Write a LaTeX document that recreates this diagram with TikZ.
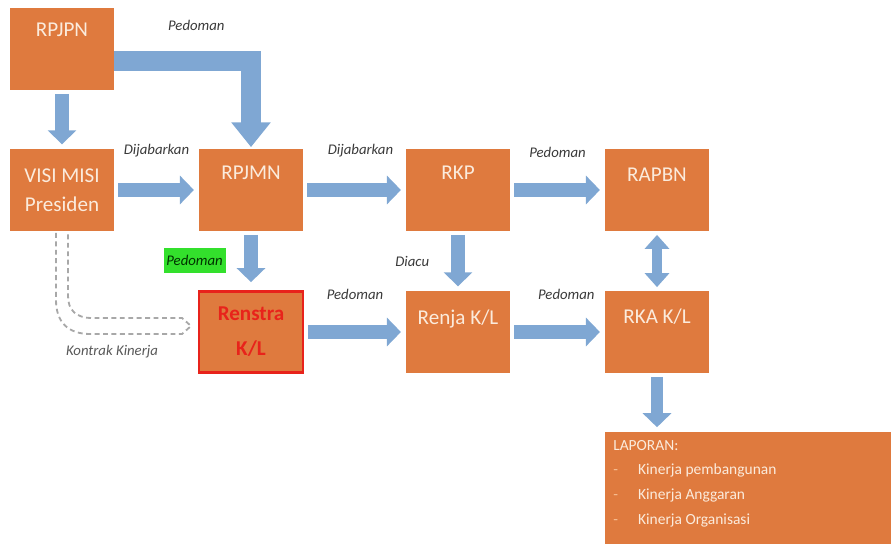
\documentclass[tikz,border=0pt]{standalone}
\usepackage{fontspec}
\setmainfont{Carlito}
\usepackage{xcolor}
\usepackage{tikz}
\usetikzlibrary{arrows.meta,positioning,calc}

\definecolor{boxorange}{HTML}{DF7A3E}
\definecolor{arrowblue}{HTML}{7FA7D3}
\definecolor{boxtext}{HTML}{FBEBDC}
\definecolor{lblgray}{HTML}{3A3A3A}
\definecolor{dashgray}{HTML}{A8A8A8}
\definecolor{renstrared}{HTML}{E8231B}
\definecolor{markgreen}{HTML}{33E02C}
\definecolor{bulletorange}{HTML}{F7BE92}

\tikzset{
  box/.style={fill=boxorange, minimum width=2.6cm, minimum height=2.03cm, inner sep=0pt},
  boxtxt/.style={text=boxtext, font=\fontsize{15}{21}\selectfont, inner sep=0pt},
  lbl/.style={text=lblgray, font=\fontsize{10.5}{12}\selectfont\itshape, inner sep=1pt},
  greenlbl/.style={lbl, fill=markgreen, text=black!80!green, minimum height=0.62cm, inner sep=2pt},
  blk/.style={arrowblue, line width=0.37cm, shorten <=0.1cm, shorten >=0.12cm,
    -{Triangle[width=0.7cm,length=0.35cm]}},
  blkbig/.style={arrowblue, line width=0.5cm, line join=miter, shorten >=0.05cm,
    -{Triangle[width=0.95cm,length=0.62cm]}},
  blkdbl/.style={arrowblue, line width=0.27cm, shorten <=0.1cm, shorten >=0.1cm,
    {Triangle[width=0.6cm,length=0.35cm]}-{Triangle[width=0.6cm,length=0.35cm]}},
  dashln/.style={dashgray, line width=1.3pt, dash pattern=on 3.5pt off 2.5pt},
}

\begin{document}
\begin{tikzpicture}[x=0.025cm, y=-0.025cm]
\useasboundingbox (0,0) rectangle (891,544);

% top row
\node[box] (rpjpn) at (62,49) {};
\node[boxtxt] (rpjpnT) at ($(rpjpn.north)+(0,22)$) {RPJPN};
\node[box, boxtxt, align=center] (visi) at (62,190) {VISI MISI\\Presiden};
\node[box] (rpjmn) at (251,190) {};
\node[boxtxt] (rpjmnT) at ($(rpjmn.north)+(0,24)$) {RPJMN};
\node[box] (rkp) at (458,190) {};
\node[boxtxt] (rkpT) at ($(rkp.north)+(0,24)$) {RKP};
\node[box] (rapbn) at (657,190) {};
\node[boxtxt] (rapbnT) at ($(rapbn.north)+(0,26)$) {RAPBN};

% second row
\node[box, draw=renstrared, line width=1.8pt, align=center, text=renstrared,
  font=\fontsize{15}{25}\selectfont\bfseries] (renstra) at (251,332) {Renstra\\K/L};
\node[box] (renja) at (458,332) {};
\node[boxtxt] (renjaT) at ($(renja.north)+(0,28)$) {Renja K/L};
\node[box] (rka) at (657,332) {};
\node[boxtxt] (rkaT) at ($(rka.north)+(0,26)$) {RKA K/L};

% laporan
\node[box, anchor=north west, minimum width=7.15cm, minimum height=2.8cm] (lap) at (605,432) {};
\node[boxtxt, anchor=north west, align=left, font=\fontsize{11}{17.5}\selectfont] (lapT)
  at ($(lap.north west)+(8,8)$)
  {LAPORAN:\\
   \makebox[0.62cm][l]{\textcolor{bulletorange}{-}}Kinerja pembangunan\\
   \makebox[0.62cm][l]{\textcolor{bulletorange}{-}}Kinerja Anggaran\\
   \makebox[0.62cm][l]{\textcolor{bulletorange}{-}}Kinerja Organisasi};

% arrows
\draw[blkbig] ($(rpjpn.east)+(0,12)$) -| node[lbl, pos=0.3, above=0.48cm] (pedA) {Pedoman} (rpjmn.north);
\draw[blk] (rpjpn) -- (visi);
\draw[blk] (visi) -- node[lbl, midway, above=0.6cm] (dijA) {Dijabarkan} (rpjmn);
\draw[blk] (rpjmn) -- node[lbl, midway, above=0.6cm, xshift=0.15cm] (dijB) {Dijabarkan} (rkp);
\draw[blk] (rkp) -- node[lbl, midway, above=0.6cm] (pedB) {Pedoman} (rapbn);
\draw[blk, shorten >=0.2cm] (rpjmn) -- node[greenlbl, midway, left=0.45cm] (pedG) {Pedoman} (renstra);
\draw[blk] (rkp) -- node[lbl, midway, left=0.5cm] (diacu) {Diacu} (renja);
\draw[blk] (renstra) -- node[lbl, midway, above=0.6cm] (pedC) {Pedoman} (renja);
\draw[blk] (renja) -- node[lbl, midway, above=0.6cm, xshift=0.22cm] (pedD) {Pedoman} (rka);
\draw[blkdbl] (rapbn) -- (rka);
\draw[blk, line width=0.28cm] (rka) -- (rka.south |- lap.north);

% kontrak kinerja
\draw[dashln] ($(visi.south)+(-6,2)$) -- (56,300) .. controls (56,322) and (68,334) .. (90,334)
  -- (182,334) -- (191,326) -- (182,318) -- (92,318) .. controls (76,318) and (68,310) .. (68,296)
  -- ($(visi.south)+(6,2)$);
\node[lbl, text=black!65] (kontrak) at (112,352) {Kontrak Kinerja};
\end{tikzpicture}
\end{document}
